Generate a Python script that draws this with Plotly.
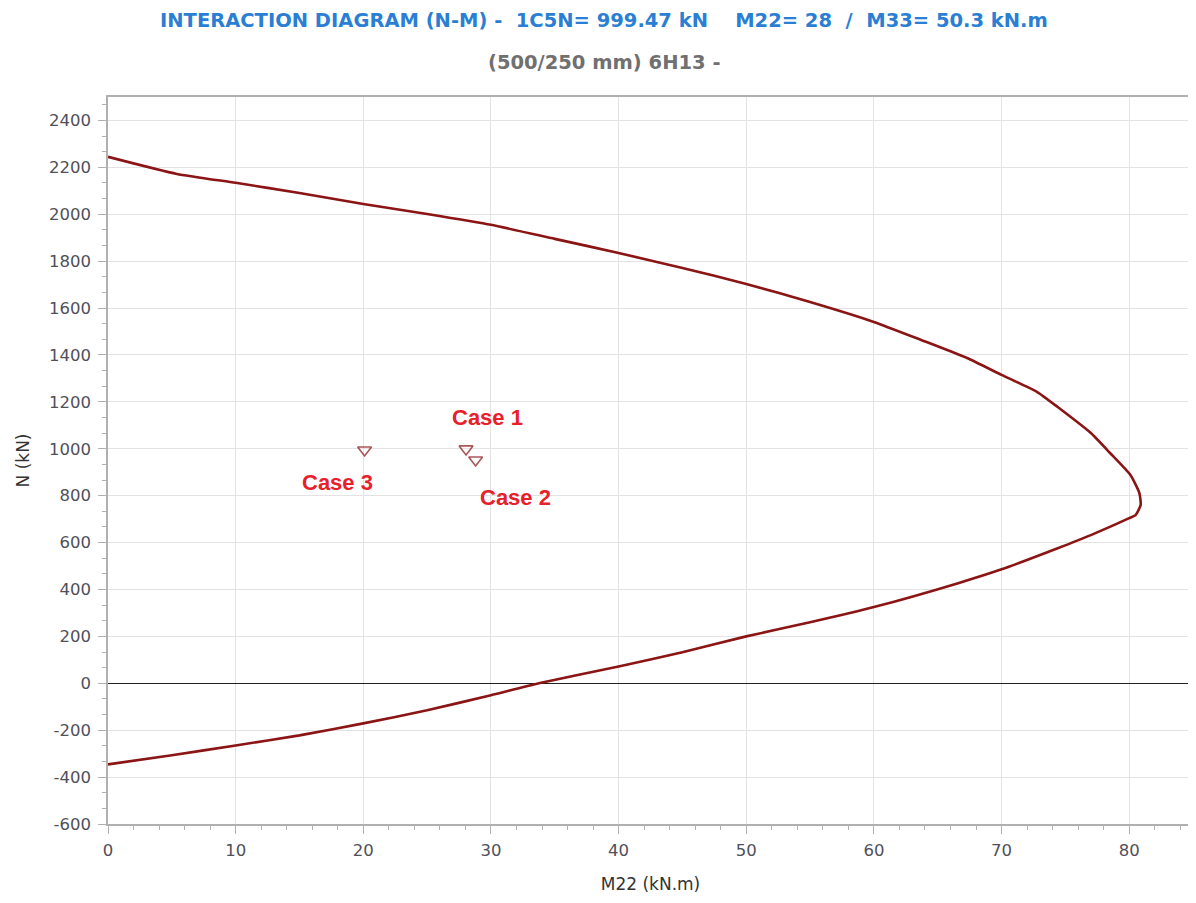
import plotly.graph_objects as go

# Interaction curve (M22 in kN.m, N in kN), traced along the envelope
curve_m = [0, 5.4, 10, 15, 20, 25, 30, 35, 40, 45, 50, 55, 60, 63.7, 67.3, 70, 72.8, 74.4, 77, 78.5,
           80.1, 80.8, 80.9, 80.5, 80, 77, 74.4, 70, 66.6, 60, 55, 50, 45, 40, 33.75,
           30, 25, 20, 15, 10, 5, 0]
curve_n = [2245, 2172, 2134, 2091, 2044, 2001, 1955, 1895, 1835, 1771, 1703, 1626, 1541, 1464, 1387, 1315, 1242, 1178, 1067, 982,
           888, 811, 760, 717, 704, 632, 576, 486, 427, 325, 260, 200, 132, 72, 0,
           -51, -115, -171, -222, -265, -307, -346]

case_names = ["Case 1", "Case 2", "Case 3"]
case_m = [28.05, 28.8, 20.1]
case_n = [999.47, 952, 995]
label_m = [29.7, 31.9, 18.0]
label_n = [1135, 794, 858]

x_ticks = [0, 10, 20, 30, 40, 50, 60, 70, 80]
y_ticks = [-600, -400, -200, 0, 200, 400, 600, 800, 1000, 1200, 1400, 1600, 1800, 2000, 2200, 2400]
y_tick_text = [str(v) for v in y_ticks]

title1 = "INTERACTION DIAGRAM (N-M) -  1C5N= 999.47 kN    M22= 28  /  M33= 50.3 kN.m"
title2 = "(500/250 mm) 6H13 -"

fig = go.Figure()
fig.add_trace(go.Scatter(x=curve_m, y=curve_n, mode="lines",
                         line=dict(color="#8B1414", width=2.6, shape="spline", smoothing=0.5),
                         hoverinfo="skip"))
fig.add_trace(go.Scatter(x=case_m, y=case_n, mode="markers", text=case_names,
                         marker=dict(symbol="triangle-down-open", size=12,
                                     color="rgba(139,30,30,0.75)", line=dict(width=1.6))))

for name, lm, ln in zip(case_names, label_m, label_n):
    fig.add_annotation(x=lm, y=ln, text=name, showarrow=False,
                       font=dict(family="Liberation Sans", size=22, color="#E8202A", weight="bold"))

axis_font = dict(family="DejaVu Sans", size=16.5, color="#50505A")
fig.update_layout(
    width=1188, height=895,
    paper_bgcolor="white", plot_bgcolor="white",
    showlegend=False,
    margin=dict(l=100, r=1, t=89, b=79),
    xaxis=dict(range=[0, 85], tickvals=x_ticks, showgrid=True, gridcolor="#E3E3E3", gridwidth=1,
               showline=True, linecolor="#B0B0B0", linewidth=1.5, mirror=True,
               ticks="outside", ticklen=8, tickcolor="#B0B0B0", tickfont=axis_font,
               ticklabelstandoff=2, zeroline=False,
               minor=dict(dtick=2, ticks="outside", ticklen=4, tickcolor="#B0B0B0", showgrid=False),
               title=dict(text="M22 (kN.m)", font=dict(family="DejaVu Sans", size=17, color="#333333"),
                          standoff=20)),
    yaxis=dict(range=[-600, 2500], tickvals=y_ticks, ticktext=y_tick_text,
               showgrid=True, gridcolor="#E3E3E3", gridwidth=1,
               showline=True, linecolor="#B0B0B0", linewidth=1.5, mirror=True,
               ticks="outside", ticklen=8, tickcolor="#B0B0B0", tickfont=axis_font,
               ticklabelstandoff=4,
               zeroline=True, zerolinecolor="#222222", zerolinewidth=1,
               minor=dict(tick0=0, dtick=200 / 3, ticks="outside", ticklen=4, tickcolor="#B0B0B0", showgrid=False),
               title=dict(text="N (kN)", font=dict(family="DejaVu Sans", size=17, color="#333333"),
                          standoff=15)),
)

fig.add_annotation(text="<b>" + title1 + "</b>", xref="paper", yref="paper",
                   x=(605 - 108) / 1087, y=1 + (97 - 20) / 727, xanchor="center", yanchor="middle",
                   showarrow=False, font=dict(family="DejaVu Sans", size=19.5, color="#2A7FD4"))
fig.add_annotation(text="<b>" + title2 + "</b>", xref="paper", yref="paper",
                   x=(605 - 108) / 1087, y=1 + (97 - 62) / 727, xanchor="center", yanchor="middle",
                   showarrow=False, font=dict(family="DejaVu Sans", size=19.5, color="#707070"))

fig.write_html("out.html")
